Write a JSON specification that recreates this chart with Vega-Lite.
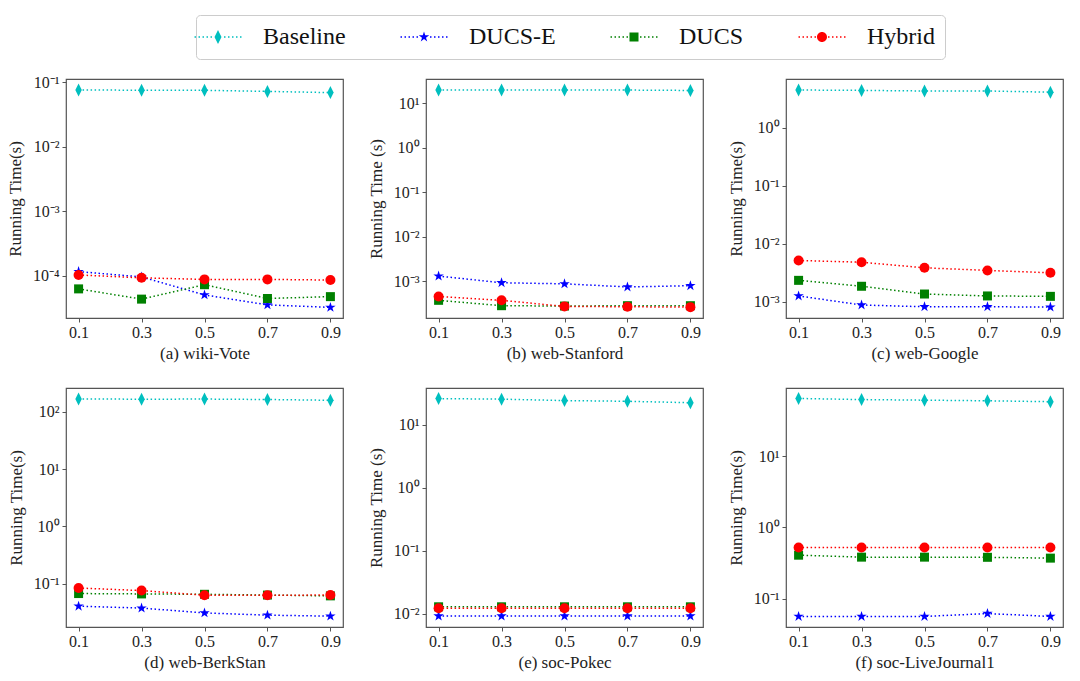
{
  "$schema": "https://vega.github.io/schema/vega-lite/v6.json",
  "background": "white",
  "padding": {"left": 5, "top": 14, "right": 5, "bottom": 5},
  "bounds": "flush",
  "columns": 3,
  "spacing": {"row": 70, "column": 83},
  "data": {
    "values": [
      {"panel": "a", "method": "Baseline", "ratio": 0.1, "time": 0.076},
      {"panel": "a", "method": "Baseline", "ratio": 0.3, "time": 0.075},
      {"panel": "a", "method": "Baseline", "ratio": 0.5, "time": 0.075},
      {"panel": "a", "method": "Baseline", "ratio": 0.7, "time": 0.072},
      {"panel": "a", "method": "Baseline", "ratio": 0.9, "time": 0.069},
      {"panel": "a", "method": "DUCS-E", "ratio": 0.1, "time": 0.000115},
      {"panel": "a", "method": "DUCS-E", "ratio": 0.3, "time": 0.000095},
      {"panel": "a", "method": "DUCS-E", "ratio": 0.5, "time": 0.00005},
      {"panel": "a", "method": "DUCS-E", "ratio": 0.7, "time": 0.000035},
      {"panel": "a", "method": "DUCS-E", "ratio": 0.9, "time": 0.000032},
      {"panel": "a", "method": "DUCS", "ratio": 0.1, "time": 0.000062},
      {"panel": "a", "method": "DUCS", "ratio": 0.3, "time": 0.000043},
      {"panel": "a", "method": "DUCS", "ratio": 0.5, "time": 0.000072},
      {"panel": "a", "method": "DUCS", "ratio": 0.7, "time": 0.000044},
      {"panel": "a", "method": "DUCS", "ratio": 0.9, "time": 0.000047},
      {"panel": "a", "method": "Hybrid", "ratio": 0.1, "time": 0.000102},
      {"panel": "a", "method": "Hybrid", "ratio": 0.3, "time": 0.000092},
      {"panel": "a", "method": "Hybrid", "ratio": 0.5, "time": 0.000087},
      {"panel": "a", "method": "Hybrid", "ratio": 0.7, "time": 0.000087},
      {"panel": "a", "method": "Hybrid", "ratio": 0.9, "time": 0.000085},

      {"panel": "b", "method": "Baseline", "ratio": 0.1, "time": 20.2},
      {"panel": "b", "method": "Baseline", "ratio": 0.3, "time": 20.2},
      {"panel": "b", "method": "Baseline", "ratio": 0.5, "time": 20.1},
      {"panel": "b", "method": "Baseline", "ratio": 0.7, "time": 20.0},
      {"panel": "b", "method": "Baseline", "ratio": 0.9, "time": 19.6},
      {"panel": "b", "method": "DUCS-E", "ratio": 0.1, "time": 0.0013},
      {"panel": "b", "method": "DUCS-E", "ratio": 0.3, "time": 0.00092},
      {"panel": "b", "method": "DUCS-E", "ratio": 0.5, "time": 0.00087},
      {"panel": "b", "method": "DUCS-E", "ratio": 0.7, "time": 0.00074},
      {"panel": "b", "method": "DUCS-E", "ratio": 0.9, "time": 0.00079},
      {"panel": "b", "method": "DUCS", "ratio": 0.1, "time": 0.00037},
      {"panel": "b", "method": "DUCS", "ratio": 0.3, "time": 0.00028},
      {"panel": "b", "method": "DUCS", "ratio": 0.5, "time": 0.000275},
      {"panel": "b", "method": "DUCS", "ratio": 0.7, "time": 0.00028},
      {"panel": "b", "method": "DUCS", "ratio": 0.9, "time": 0.00028},
      {"panel": "b", "method": "Hybrid", "ratio": 0.1, "time": 0.00045},
      {"panel": "b", "method": "Hybrid", "ratio": 0.3, "time": 0.00037},
      {"panel": "b", "method": "Hybrid", "ratio": 0.5, "time": 0.00027},
      {"panel": "b", "method": "Hybrid", "ratio": 0.7, "time": 0.000265},
      {"panel": "b", "method": "Hybrid", "ratio": 0.9, "time": 0.00026},

      {"panel": "c", "method": "Baseline", "ratio": 0.1, "time": 4.47},
      {"panel": "c", "method": "Baseline", "ratio": 0.3, "time": 4.4},
      {"panel": "c", "method": "Baseline", "ratio": 0.5, "time": 4.3},
      {"panel": "c", "method": "Baseline", "ratio": 0.7, "time": 4.3},
      {"panel": "c", "method": "Baseline", "ratio": 0.9, "time": 4.1},
      {"panel": "c", "method": "DUCS-E", "ratio": 0.1, "time": 0.00126},
      {"panel": "c", "method": "DUCS-E", "ratio": 0.3, "time": 0.00088},
      {"panel": "c", "method": "DUCS-E", "ratio": 0.5, "time": 0.00082},
      {"panel": "c", "method": "DUCS-E", "ratio": 0.7, "time": 0.00082},
      {"panel": "c", "method": "DUCS-E", "ratio": 0.9, "time": 0.00081},
      {"panel": "c", "method": "DUCS", "ratio": 0.1, "time": 0.00234},
      {"panel": "c", "method": "DUCS", "ratio": 0.3, "time": 0.00185},
      {"panel": "c", "method": "DUCS", "ratio": 0.5, "time": 0.00136},
      {"panel": "c", "method": "DUCS", "ratio": 0.7, "time": 0.00126},
      {"panel": "c", "method": "DUCS", "ratio": 0.9, "time": 0.00124},
      {"panel": "c", "method": "Hybrid", "ratio": 0.1, "time": 0.00515},
      {"panel": "c", "method": "Hybrid", "ratio": 0.3, "time": 0.0048},
      {"panel": "c", "method": "Hybrid", "ratio": 0.5, "time": 0.00385},
      {"panel": "c", "method": "Hybrid", "ratio": 0.7, "time": 0.00347},
      {"panel": "c", "method": "Hybrid", "ratio": 0.9, "time": 0.00316},

      {"panel": "d", "method": "Baseline", "ratio": 0.1, "time": 166},
      {"panel": "d", "method": "Baseline", "ratio": 0.3, "time": 164},
      {"panel": "d", "method": "Baseline", "ratio": 0.5, "time": 165},
      {"panel": "d", "method": "Baseline", "ratio": 0.7, "time": 162},
      {"panel": "d", "method": "Baseline", "ratio": 0.9, "time": 157},
      {"panel": "d", "method": "DUCS-E", "ratio": 0.1, "time": 0.041},
      {"panel": "d", "method": "DUCS-E", "ratio": 0.3, "time": 0.038},
      {"panel": "d", "method": "DUCS-E", "ratio": 0.5, "time": 0.0313},
      {"panel": "d", "method": "DUCS-E", "ratio": 0.7, "time": 0.0286},
      {"panel": "d", "method": "DUCS-E", "ratio": 0.9, "time": 0.0275},
      {"panel": "d", "method": "DUCS", "ratio": 0.1, "time": 0.068},
      {"panel": "d", "method": "DUCS", "ratio": 0.3, "time": 0.067},
      {"panel": "d", "method": "DUCS", "ratio": 0.5, "time": 0.066},
      {"panel": "d", "method": "DUCS", "ratio": 0.7, "time": 0.064},
      {"panel": "d", "method": "DUCS", "ratio": 0.9, "time": 0.062},
      {"panel": "d", "method": "Hybrid", "ratio": 0.1, "time": 0.085},
      {"panel": "d", "method": "Hybrid", "ratio": 0.3, "time": 0.0766},
      {"panel": "d", "method": "Hybrid", "ratio": 0.5, "time": 0.0636},
      {"panel": "d", "method": "Hybrid", "ratio": 0.7, "time": 0.0636},
      {"panel": "d", "method": "Hybrid", "ratio": 0.9, "time": 0.064},

      {"panel": "e", "method": "Baseline", "ratio": 0.1, "time": 25.8},
      {"panel": "e", "method": "Baseline", "ratio": 0.3, "time": 25.3},
      {"panel": "e", "method": "Baseline", "ratio": 0.5, "time": 24.0},
      {"panel": "e", "method": "Baseline", "ratio": 0.7, "time": 23.4},
      {"panel": "e", "method": "Baseline", "ratio": 0.9, "time": 22.2},
      {"panel": "e", "method": "DUCS-E", "ratio": 0.1, "time": 0.0092},
      {"panel": "e", "method": "DUCS-E", "ratio": 0.3, "time": 0.0092},
      {"panel": "e", "method": "DUCS-E", "ratio": 0.5, "time": 0.0092},
      {"panel": "e", "method": "DUCS-E", "ratio": 0.7, "time": 0.0092},
      {"panel": "e", "method": "DUCS-E", "ratio": 0.9, "time": 0.0092},
      {"panel": "e", "method": "DUCS", "ratio": 0.1, "time": 0.0129},
      {"panel": "e", "method": "DUCS", "ratio": 0.3, "time": 0.0129},
      {"panel": "e", "method": "DUCS", "ratio": 0.5, "time": 0.0129},
      {"panel": "e", "method": "DUCS", "ratio": 0.7, "time": 0.0129},
      {"panel": "e", "method": "DUCS", "ratio": 0.9, "time": 0.0129},
      {"panel": "e", "method": "Hybrid", "ratio": 0.1, "time": 0.0122},
      {"panel": "e", "method": "Hybrid", "ratio": 0.3, "time": 0.0122},
      {"panel": "e", "method": "Hybrid", "ratio": 0.5, "time": 0.0122},
      {"panel": "e", "method": "Hybrid", "ratio": 0.7, "time": 0.0122},
      {"panel": "e", "method": "Hybrid", "ratio": 0.9, "time": 0.0122},

      {"panel": "f", "method": "Baseline", "ratio": 0.1, "time": 65},
      {"panel": "f", "method": "Baseline", "ratio": 0.3, "time": 62.7},
      {"panel": "f", "method": "Baseline", "ratio": 0.5, "time": 61.5},
      {"panel": "f", "method": "Baseline", "ratio": 0.7, "time": 60.3},
      {"panel": "f", "method": "Baseline", "ratio": 0.9, "time": 58.5},
      {"panel": "f", "method": "DUCS-E", "ratio": 0.1, "time": 0.056},
      {"panel": "f", "method": "DUCS-E", "ratio": 0.3, "time": 0.056},
      {"panel": "f", "method": "DUCS-E", "ratio": 0.5, "time": 0.056},
      {"panel": "f", "method": "DUCS-E", "ratio": 0.7, "time": 0.0615},
      {"panel": "f", "method": "DUCS-E", "ratio": 0.9, "time": 0.056},
      {"panel": "f", "method": "DUCS", "ratio": 0.1, "time": 0.407},
      {"panel": "f", "method": "DUCS", "ratio": 0.3, "time": 0.382},
      {"panel": "f", "method": "DUCS", "ratio": 0.5, "time": 0.382},
      {"panel": "f", "method": "DUCS", "ratio": 0.7, "time": 0.38},
      {"panel": "f", "method": "DUCS", "ratio": 0.9, "time": 0.37},
      {"panel": "f", "method": "Hybrid", "ratio": 0.1, "time": 0.523},
      {"panel": "f", "method": "Hybrid", "ratio": 0.3, "time": 0.523},
      {"panel": "f", "method": "Hybrid", "ratio": 0.5, "time": 0.523},
      {"panel": "f", "method": "Hybrid", "ratio": 0.7, "time": 0.523},
      {"panel": "f", "method": "Hybrid", "ratio": 0.9, "time": 0.523}
    ]
  },
  "concat": [
    {
      "width": 277, "height": 239,
      "transform": [{"filter": "datum.panel == 'a'"}],
      "encoding": {
        "x": {"field": "ratio", "type": "quantitative", "scale": {"domain": [0.06, 0.94]}, "axis": {"values": [0.1, 0.3, 0.5, 0.7, 0.9], "format": ".1f", "title": "(a) wiki-Vote"}},
        "y": {"field": "time", "type": "quantitative", "scale": {"type": "log", "domain": [0.0000219, 0.1122]}, "axis": {"values": [0.0001, 0.001, 0.01, 0.1], "title": "Running Time(s)"}},
        "color": {"field": "method", "type": "nominal", "scale": {"domain": ["Baseline", "DUCS-E", "DUCS", "Hybrid"], "range": ["#00bfbf", "#0000ff", "#008000", "#ff0000"]}}
      },
      "layer": [
        {"mark": {"type": "line", "strokeDash": [1.5, 2.5], "strokeWidth": 1.5}},
        {"mark": {"type": "point", "filled": true, "opacity": 0}, "encoding": {"shape": {"field": "method", "type": "nominal", "scale": {"domain": ["Baseline", "DUCS-E", "DUCS", "Hybrid"], "range": [
          "M-2.35,-0.075h0.15v0.15h-0.15ZM-1.95,-0.075h0.15v0.15h-0.15ZM-1.55,-0.075h0.15v0.15h-0.15ZM-1.15,-0.075h0.15v0.15h-0.15ZM-0.75,-0.075h0.15v0.15h-0.15ZM0.6,-0.075h0.15v0.15h-0.15ZM1,-0.075h0.15v0.15h-0.15ZM1.4,-0.075h0.15v0.15h-0.15ZM1.8,-0.075h0.15v0.15h-0.15ZM2.2,-0.075h0.15v0.15h-0.15ZM0,-0.7L0.35,0L0,0.7L-0.35,0Z",
          "M-2.35,-0.075h0.15v0.15h-0.15ZM-1.95,-0.075h0.15v0.15h-0.15ZM-1.55,-0.075h0.15v0.15h-0.15ZM-1.15,-0.075h0.15v0.15h-0.15ZM-0.75,-0.075h0.15v0.15h-0.15ZM0.6,-0.075h0.15v0.15h-0.15ZM1,-0.075h0.15v0.15h-0.15ZM1.4,-0.075h0.15v0.15h-0.15ZM1.8,-0.075h0.15v0.15h-0.15ZM2.2,-0.075h0.15v0.15h-0.15ZM0,-0.55L0.124,-0.17L0.523,-0.17L0.2,0.065L0.323,0.445L0,0.21L-0.323,0.445L-0.2,0.065L-0.523,-0.17L-0.124,-0.17Z",
          "M-2.35,-0.075h0.15v0.15h-0.15ZM-1.95,-0.075h0.15v0.15h-0.15ZM-1.55,-0.075h0.15v0.15h-0.15ZM-1.15,-0.075h0.15v0.15h-0.15ZM-0.75,-0.075h0.15v0.15h-0.15ZM0.6,-0.075h0.15v0.15h-0.15ZM1,-0.075h0.15v0.15h-0.15ZM1.4,-0.075h0.15v0.15h-0.15ZM1.8,-0.075h0.15v0.15h-0.15ZM2.2,-0.075h0.15v0.15h-0.15ZM-0.45,-0.45L0.45,-0.45L0.45,0.45L-0.45,0.45Z",
          "M-2.35,-0.075h0.15v0.15h-0.15ZM-1.95,-0.075h0.15v0.15h-0.15ZM-1.55,-0.075h0.15v0.15h-0.15ZM-1.15,-0.075h0.15v0.15h-0.15ZM-0.75,-0.075h0.15v0.15h-0.15ZM0.6,-0.075h0.15v0.15h-0.15ZM1,-0.075h0.15v0.15h-0.15ZM1.4,-0.075h0.15v0.15h-0.15ZM1.8,-0.075h0.15v0.15h-0.15ZM2.2,-0.075h0.15v0.15h-0.15ZM-0.5,0A0.5,0.5,0,1,0,0.5,0A0.5,0.5,0,1,0,-0.5,0Z"
        ]}}}},
        {"transform": [{"filter": "datum.method == 'Baseline'"}], "mark": {"type": "point", "filled": true, "opacity": 1, "size": 100, "shape": "M0,-1.3L0.65,0L0,1.3L-0.65,0Z"}},
        {"transform": [{"filter": "datum.method == 'DUCS-E'"}], "mark": {"type": "point", "filled": true, "opacity": 1, "size": 100, "shape": "M0,-1.1L0.248,-0.34L1.046,-0.34L0.4,0.13L0.647,0.89L0,0.42L-0.647,0.89L-0.4,0.13L-1.046,-0.34L-0.248,-0.34Z"}},
        {"transform": [{"filter": "datum.method == 'DUCS'"}], "mark": {"type": "point", "filled": true, "opacity": 1, "size": 100, "shape": "M-0.9,-0.9L0.9,-0.9L0.9,0.9L-0.9,0.9Z"}},
        {"transform": [{"filter": "datum.method == 'Hybrid'"}], "mark": {"type": "point", "filled": true, "opacity": 1, "size": 100, "shape": "circle"}}
      ]
    },
    {
      "width": 277, "height": 239,
      "transform": [{"filter": "datum.panel == 'b'"}],
      "encoding": {
        "x": {"field": "ratio", "type": "quantitative", "scale": {"domain": [0.06, 0.94]}, "axis": {"values": [0.1, 0.3, 0.5, 0.7, 0.9], "format": ".1f", "title": "(b) web-Stanford"}},
        "y": {"field": "time", "type": "quantitative", "scale": {"type": "log", "domain": [0.000148, 35.5]}, "axis": {"values": [0.001, 0.01, 0.1, 1, 10], "title": "Running Time (s)"}},
        "color": {"field": "method", "type": "nominal"}
      },
      "layer": [
        {"mark": {"type": "line", "strokeDash": [1.5, 2.5], "strokeWidth": 1.5}},
        {"transform": [{"filter": "datum.method == 'Baseline'"}], "mark": {"type": "point", "filled": true, "opacity": 1, "size": 100, "shape": "M0,-1.3L0.65,0L0,1.3L-0.65,0Z"}},
        {"transform": [{"filter": "datum.method == 'DUCS-E'"}], "mark": {"type": "point", "filled": true, "opacity": 1, "size": 100, "shape": "M0,-1.1L0.248,-0.34L1.046,-0.34L0.4,0.13L0.647,0.89L0,0.42L-0.647,0.89L-0.4,0.13L-1.046,-0.34L-0.248,-0.34Z"}},
        {"transform": [{"filter": "datum.method == 'DUCS'"}], "mark": {"type": "point", "filled": true, "opacity": 1, "size": 100, "shape": "M-0.9,-0.9L0.9,-0.9L0.9,0.9L-0.9,0.9Z"}},
        {"transform": [{"filter": "datum.method == 'Hybrid'"}], "mark": {"type": "point", "filled": true, "opacity": 1, "size": 100, "shape": "circle"}}
      ]
    },
    {
      "width": 277, "height": 239,
      "transform": [{"filter": "datum.panel == 'c'"}],
      "encoding": {
        "x": {"field": "ratio", "type": "quantitative", "scale": {"domain": [0.06, 0.94]}, "axis": {"values": [0.1, 0.3, 0.5, 0.7, 0.9], "format": ".1f", "title": "(c) web-Google"}},
        "y": {"field": "time", "type": "quantitative", "scale": {"type": "log", "domain": [0.000525, 6.92]}, "axis": {"values": [0.001, 0.01, 0.1, 1], "title": "Running Time(s)"}},
        "color": {"field": "method", "type": "nominal"}
      },
      "layer": [
        {"mark": {"type": "line", "strokeDash": [1.5, 2.5], "strokeWidth": 1.5}},
        {"transform": [{"filter": "datum.method == 'Baseline'"}], "mark": {"type": "point", "filled": true, "opacity": 1, "size": 100, "shape": "M0,-1.3L0.65,0L0,1.3L-0.65,0Z"}},
        {"transform": [{"filter": "datum.method == 'DUCS-E'"}], "mark": {"type": "point", "filled": true, "opacity": 1, "size": 100, "shape": "M0,-1.1L0.248,-0.34L1.046,-0.34L0.4,0.13L0.647,0.89L0,0.42L-0.647,0.89L-0.4,0.13L-1.046,-0.34L-0.248,-0.34Z"}},
        {"transform": [{"filter": "datum.method == 'DUCS'"}], "mark": {"type": "point", "filled": true, "opacity": 1, "size": 100, "shape": "M-0.9,-0.9L0.9,-0.9L0.9,0.9L-0.9,0.9Z"}},
        {"transform": [{"filter": "datum.method == 'Hybrid'"}], "mark": {"type": "point", "filled": true, "opacity": 1, "size": 100, "shape": "circle"}}
      ]
    },
    {
      "width": 277, "height": 239,
      "transform": [{"filter": "datum.panel == 'd'"}],
      "encoding": {
        "x": {"field": "ratio", "type": "quantitative", "scale": {"domain": [0.06, 0.94]}, "axis": {"values": [0.1, 0.3, 0.5, 0.7, 0.9], "format": ".1f", "title": "(d) web-BerkStan"}},
        "y": {"field": "time", "type": "quantitative", "scale": {"type": "log", "domain": [0.0178, 257]}, "axis": {"values": [0.1, 1, 10, 100], "title": "Running Time(s)"}},
        "color": {"field": "method", "type": "nominal"}
      },
      "layer": [
        {"mark": {"type": "line", "strokeDash": [1.5, 2.5], "strokeWidth": 1.5}},
        {"transform": [{"filter": "datum.method == 'Baseline'"}], "mark": {"type": "point", "filled": true, "opacity": 1, "size": 100, "shape": "M0,-1.3L0.65,0L0,1.3L-0.65,0Z"}},
        {"transform": [{"filter": "datum.method == 'DUCS-E'"}], "mark": {"type": "point", "filled": true, "opacity": 1, "size": 100, "shape": "M0,-1.1L0.248,-0.34L1.046,-0.34L0.4,0.13L0.647,0.89L0,0.42L-0.647,0.89L-0.4,0.13L-1.046,-0.34L-0.248,-0.34Z"}},
        {"transform": [{"filter": "datum.method == 'DUCS'"}], "mark": {"type": "point", "filled": true, "opacity": 1, "size": 100, "shape": "M-0.9,-0.9L0.9,-0.9L0.9,0.9L-0.9,0.9Z"}},
        {"transform": [{"filter": "datum.method == 'Hybrid'"}], "mark": {"type": "point", "filled": true, "opacity": 1, "size": 100, "shape": "circle"}}
      ]
    },
    {
      "width": 277, "height": 239,
      "transform": [{"filter": "datum.panel == 'e'"}],
      "encoding": {
        "x": {"field": "ratio", "type": "quantitative", "scale": {"domain": [0.06, 0.94]}, "axis": {"values": [0.1, 0.3, 0.5, 0.7, 0.9], "format": ".1f", "title": "(e) soc-Pokec"}},
        "y": {"field": "time", "type": "quantitative", "scale": {"type": "log", "domain": [0.00617, 38.0]}, "axis": {"values": [0.01, 0.1, 1, 10], "title": "Running Time (s)"}},
        "color": {"field": "method", "type": "nominal"}
      },
      "layer": [
        {"mark": {"type": "line", "strokeDash": [1.5, 2.5], "strokeWidth": 1.5}},
        {"transform": [{"filter": "datum.method == 'Baseline'"}], "mark": {"type": "point", "filled": true, "opacity": 1, "size": 100, "shape": "M0,-1.3L0.65,0L0,1.3L-0.65,0Z"}},
        {"transform": [{"filter": "datum.method == 'DUCS-E'"}], "mark": {"type": "point", "filled": true, "opacity": 1, "size": 100, "shape": "M0,-1.1L0.248,-0.34L1.046,-0.34L0.4,0.13L0.647,0.89L0,0.42L-0.647,0.89L-0.4,0.13L-1.046,-0.34L-0.248,-0.34Z"}},
        {"transform": [{"filter": "datum.method == 'DUCS'"}], "mark": {"type": "point", "filled": true, "opacity": 1, "size": 100, "shape": "M-0.9,-0.9L0.9,-0.9L0.9,0.9L-0.9,0.9Z"}},
        {"transform": [{"filter": "datum.method == 'Hybrid'"}], "mark": {"type": "point", "filled": true, "opacity": 1, "size": 100, "shape": "circle"}}
      ]
    },
    {
      "width": 277, "height": 239,
      "transform": [{"filter": "datum.panel == 'f'"}],
      "encoding": {
        "x": {"field": "ratio", "type": "quantitative", "scale": {"domain": [0.06, 0.94]}, "axis": {"values": [0.1, 0.3, 0.5, 0.7, 0.9], "format": ".1f", "title": "(f) soc-LiveJournal1"}},
        "y": {"field": "time", "type": "quantitative", "scale": {"type": "log", "domain": [0.0398, 91.2]}, "axis": {"values": [0.1, 1, 10], "title": "Running Time(s)"}},
        "color": {"field": "method", "type": "nominal"}
      },
      "layer": [
        {"mark": {"type": "line", "strokeDash": [1.5, 2.5], "strokeWidth": 1.5}},
        {"transform": [{"filter": "datum.method == 'Baseline'"}], "mark": {"type": "point", "filled": true, "opacity": 1, "size": 100, "shape": "M0,-1.3L0.65,0L0,1.3L-0.65,0Z"}},
        {"transform": [{"filter": "datum.method == 'DUCS-E'"}], "mark": {"type": "point", "filled": true, "opacity": 1, "size": 100, "shape": "M0,-1.1L0.248,-0.34L1.046,-0.34L0.4,0.13L0.647,0.89L0,0.42L-0.647,0.89L-0.4,0.13L-1.046,-0.34L-0.248,-0.34Z"}},
        {"transform": [{"filter": "datum.method == 'DUCS'"}], "mark": {"type": "point", "filled": true, "opacity": 1, "size": 100, "shape": "M-0.9,-0.9L0.9,-0.9L0.9,0.9L-0.9,0.9Z"}},
        {"transform": [{"filter": "datum.method == 'Hybrid'"}], "mark": {"type": "point", "filled": true, "opacity": 1, "size": 100, "shape": "circle"}}
      ]
    }
  ],
  "config": {
    "font": "Liberation Serif",
    "view": {"stroke": "#555555", "strokeWidth": 1.2},
    "axis": {
      "grid": false,
      "domain": false,
      "labelFont": "Liberation Serif",
      "labelFontSize": 16,
      "labelColor": "#222222",
      "titleFont": "Liberation Serif",
      "titleFontSize": 17,
      "titleFontWeight": "normal",
      "titleColor": "#222222",
      "tickColor": "#555555",
      "tickSize": 4
    },
    "axisX": {"labelPadding": 2, "titlePadding": 5},
    "axisY": {
      "titlePadding": 8,
      "labelPadding": 3,
      "labelExpr": "'10' + (datum.value < 0.5 ? '⁻' : '') + substring('⁰¹²³⁴⁵⁶⁷⁸⁹', abs(round(log(datum.value) / LN10)), abs(round(log(datum.value) / LN10)) + 1)"
    },
    "legend": {
      "orient": "none",
      "legendX": 130,
      "legendY": -64,
      "direction": "horizontal",
      "columns": 4,
      "title": null,
      "symbolSize": 400,
      "symbolStrokeWidth": 0,
      "symbolOpacity": 1,
      "labelFont": "Liberation Serif",
      "labelFontSize": 24,
      "labelColor": "#111111",
      "labelOffset": 33,
      "columnPadding": 54,
      "padding": 10,
      "strokeColor": "#cccccc",
      "cornerRadius": 4
    }
  },
  "resolve": {"scale": {"color": "shared", "shape": "shared"}}
}
